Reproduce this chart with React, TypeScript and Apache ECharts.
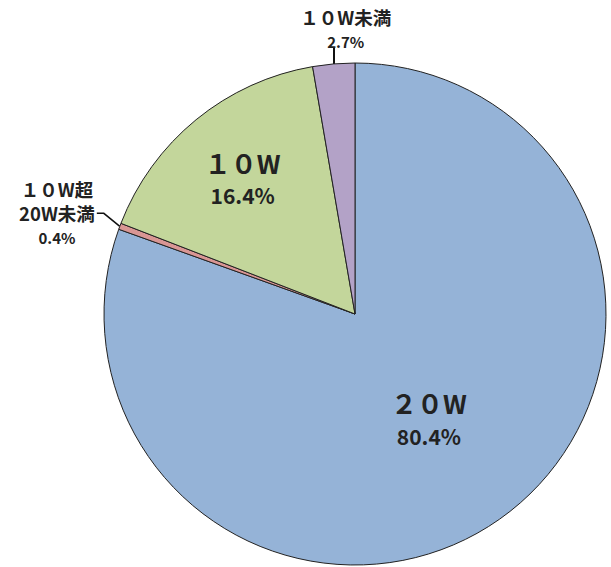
import React, { useEffect, useRef } from "react";
import * as echarts from "echarts";

const categories = ["２０W", "１０W超\n20W未満", "１０W", "１０W未満"];
const shares = [80.4, 0.4, 16.4, 2.7];
const colors = ["#95B3D7", "#D99694", "#C3D69B", "#B3A2C7"];
const insideLabel = [true, false, true, false];

export default function App() {
  const ref = useRef<HTMLDivElement>(null);
  useEffect(() => {
    if (!ref.current) return;
    const chart = echarts.init(ref.current, undefined, { renderer: "svg" });
    const fam = "'Noto Sans CJK JP', 'Noto Sans', sans-serif";
    const data = categories.map((name, i) => {
      const inside = insideLabel[i];
      return {
        name,
        value: shares[i],
        itemStyle: { color: colors[i] },
        label: inside
          ? {
              position: "inside",
              rich: {
                n: { fontSize: 26, fontWeight: "bold", color: "#222", fontFamily: fam, lineHeight: 33 },
                p: { fontSize: 21, fontWeight: "bold", color: "#222", fontFamily: fam, lineHeight: 33 },
              },
            }
          : {
              position: "outside",
              rich: {
                n: { fontSize: 18.5, fontWeight: "bold", color: "#222", fontFamily: fam, lineHeight: 24.5, align: "center" },
                p: { fontSize: 15, fontWeight: "bold", color: "#222", fontFamily: fam, lineHeight: 24.5, align: "center" },
              },
            },
        labelLine: inside
          ? { show: false }
          : { show: true, length: 16, length2: 8, lineStyle: { color: "#111", width: i === 3 ? 2 : 1.5 } },
      };
    });
    chart.setOption({
      animation: false,
      backgroundColor: "#fff",
      series: [
        {
          type: "pie",
          center: [355, 314],
          radius: 251,
          startAngle: 90,
          clockwise: true,
          avoidLabelOverlap: false,
          minShowLabelAngle: 0,
          itemStyle: { borderColor: "#222", borderWidth: 1 },
          emphasis: { disabled: true },
          label: {
            show: true,
            formatter: (p: any) => {
              const lines = String(p.name).split("\n").map((l: string) => `{n|${l}}`);
              return lines.join("\n") + `\n{p|${Number(p.value).toFixed(1)}%}`;
            },
          },
          labelLayout: (p: any) => {
            if (p.dataIndex === 2) return { dx: -31, dy: -36 };
            const pts = p.labelLinePoints;
            if (!pts) return {};
            const x0 = pts[0][0];
            const y0 = pts[0][1];
            if (p.dataIndex === 3) {
              const xl = Math.round(x0);
              return {
                x: x0 + 12,
                y: y0 - 10,
                align: "center",
                verticalAlign: "bottom",
                labelLinePoints: [[xl, y0], [xl, y0 - 16], [xl, y0 - 16]],
              };
            }
            if (p.dataIndex === 1) {
              return {
                x: x0 - 25,
                y: y0 - 13,
                align: "right",
                verticalAlign: "middle",
                labelLinePoints: [[x0, y0], [x0 - 16, y0 - 13], [x0 - 23, y0 - 13]],
              };
            }
            return {};
          },
          data,
        },
      ],
    });
    return () => chart.dispose();
  }, []);
  return (
    <div
      ref={ref}
      style={{ position: "fixed", left: 0, top: 0, width: 611, height: 567, background: "#fff" }}
    />
  );
}
